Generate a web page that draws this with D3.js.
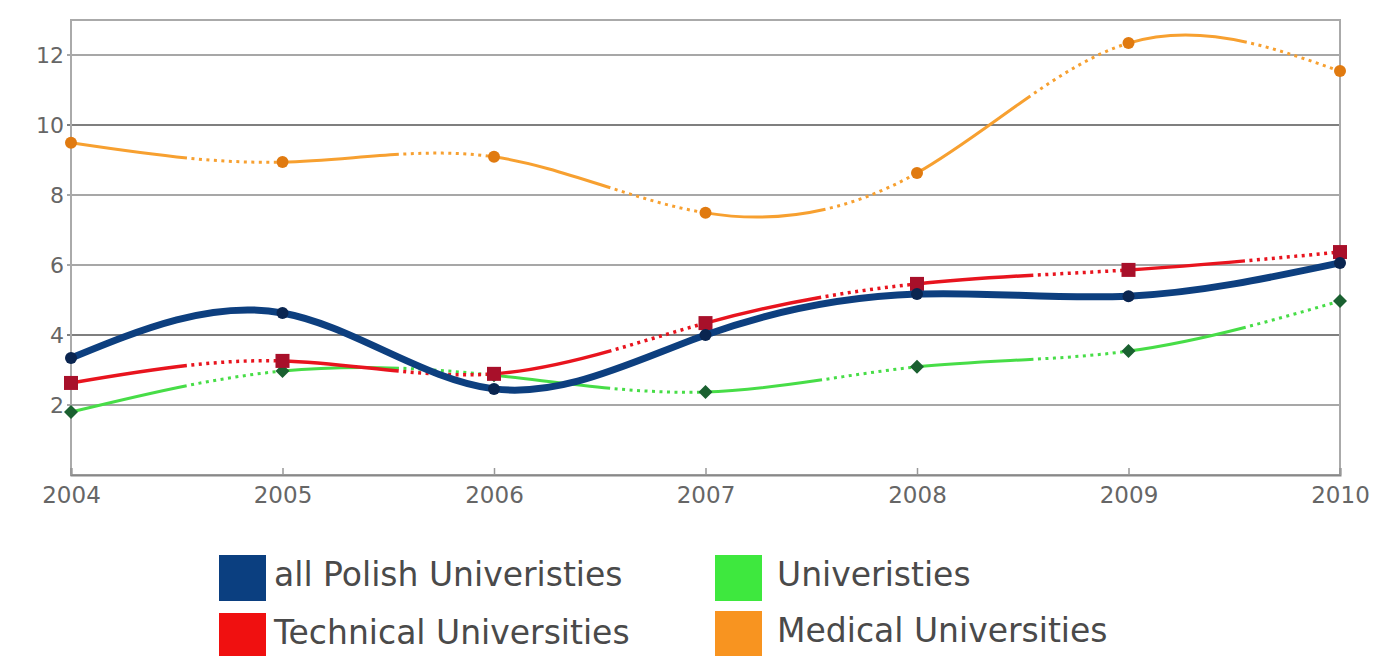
<!DOCTYPE html>
<html><head><meta charset="utf-8">
<script src="https://cdn.jsdelivr.net/npm/d3@7"></script>
<style>html,body{margin:0;padding:0;background:#fff;overflow:hidden}</style>
</head><body>
<svg id="c" width="1383" height="656"></svg>
<script>
const years = [2004, 2005, 2006, 2007, 2008, 2009, 2010];
const yTicks = [2, 4, 6, 8, 10, 12];
const allPolish = [3.34, 4.63, 2.46, 4.0, 5.17, 5.11, 6.06];
const technical = [2.63, 3.26, 2.89, 4.34, 5.46, 5.86, 6.37];
const universities = [1.8, 2.97, 2.85, 2.37, 3.09, 3.54, 4.97];
const medical = [9.49, 8.94, 9.09, 7.49, 8.63, 12.34, 11.54];
const seriesNames = ["all Polish Univeristies", "Technical Universities", "Univeristies", "Medical Universities"];

const svg = d3.select("#c");
const L = 71, R = 1340, T = 20, B = 475;
const x = d3.scaleLinear().domain([2004, 2010]).range([L, R]);
const y = d3.scaleLinear().domain([0, 13]).range([B, T]);

// gridlines
svg.append("g").selectAll("line").data(yTicks).join("line")
  .attr("x1", L - 4).attr("x2", R).attr("y1", d => y(d)).attr("y2", d => y(d))
  .attr("stroke", d => (d === 10 || d === 4) ? "#555" : "#8a8a8a").attr("stroke-width", 1.6);

// frame
svg.append("rect").attr("x", L).attr("y", T).attr("width", R - L).attr("height", B - T)
  .attr("fill", "none").attr("stroke", "#aaa").attr("stroke-width", 2);

// y axis labels
const yAxis = d3.axisLeft(y).tickValues(yTicks).tickSize(0).tickPadding(7).tickFormat(d3.format("d"));
const gy = svg.append("g").attr("transform", `translate(${L},0)`).call(yAxis);
gy.select(".domain").remove();
gy.selectAll("text").attr("font-family", "DejaVu Sans").attr("font-size", 22).attr("fill", "#666");

// x axis
const xAxis = d3.axisBottom(x).tickValues(years).tickSize(-7).tickPadding(12).tickFormat(d3.format("d"));
const gx = svg.append("g").attr("transform", `translate(0,${B})`).call(xAxis);
gx.select(".domain").attr("stroke", "#888").attr("stroke-width", 2);
gx.selectAll(".tick line").attr("stroke", "#999").attr("stroke-width", 1.5);
gx.selectAll("text").attr("font-family", "DejaVu Sans").attr("font-size", 23).attr("fill", "#666");

const line = d3.line().x((d, i) => x(years[i])).y(d => y(d)).curve(d3.curveNatural);

const specs = [
  {data: allPolish, color: "#0d3f7f", mk: "#0a2550", w: 7, dotted: false, shape: "circle"},
  {data: technical, color: "#e8141e", mk: "#a8102a", w: 3.5, dotted: true, shape: "square"},
  {data: universities, color: "#47dd47", mk: "#1a6030", w: 3, dotted: true, shape: "diamond"},
  {data: medical, color: "#f7a030", mk: "#e07a10", w: 3, dotted: true, shape: "circle"}
];

const drawOrder = [3, 2, 1, 0];
drawOrder.forEach(k => {
  const s = specs[k];
  const p = svg.append("path").attr("d", line(s.data)).attr("fill", "none")
    .attr("stroke", s.color).attr("stroke-width", s.w).attr("stroke-linecap", "butt");
  if (s.dotted) {
    const node = p.node();
    const total = node.getTotalLength();
    const lens = years.map(yr => {
      const tx = x(yr);
      let lo = 0, hi = total;
      for (let it = 0; it < 40; it++) {
        const mid = (lo + hi) / 2;
        if (node.getPointAtLength(mid).x < tx) lo = mid; else hi = mid;
      }
      return (lo + hi) / 2;
    });
    const dash = [];
    for (let i = 0; i < lens.length - 1; i++) {
      const len = lens[i + 1] - lens[i];
      const solid = len * 0.55;
      const rest = len - solid;
      dash.push(solid);
      const n = Math.max(0, Math.floor((rest - 4.5) / 7.5));
      let used = 0;
      for (let j = 0; j < n; j++) { dash.push(4.5, 3); used += 7.5; }
      dash.push(rest - used);
    }
    dash.push(0, 1000);
    p.attr("stroke-dasharray", dash.map(v => v.toFixed(2)).join(" "));
  }
  // markers
  const g = svg.append("g");
  s.data.forEach((v, i) => {
    const cx = x(years[i]), cy = y(v);
    if (s.shape === "circle") {
      g.append("circle").attr("cx", cx).attr("cy", cy).attr("r", 6).attr("fill", s.mk);
    } else if (s.shape === "square") {
      g.append("rect").attr("x", cx - 7).attr("y", cy - 7).attr("width", 14).attr("height", 14).attr("fill", s.mk);
    } else {
      g.append("path").attr("d", `M${cx},${cy - 7}L${cx + 7},${cy}L${cx},${cy + 7}L${cx - 7},${cy}Z`).attr("fill", s.mk);
    }
  });
});

// legend
const legendColors = ["#0b3f80", "#f01010", "#3ee83e", "#f89420"];
const legendPos = [[219, 555], [219, 613], [715, 555], [715, 611]];
const lg = svg.append("g");
seriesNames.forEach((name, i) => {
  const [lx, ly] = legendPos[i];
  lg.append("rect").attr("x", lx).attr("y", ly).attr("width", 47).attr("height", 46).attr("fill", legendColors[i]);
  lg.append("text").attr("x", lx < 500 ? 274 : 777).attr("y", ly + 31).text(name)
    .attr("font-family", "DejaVu Sans").attr("font-size", 33).attr("fill", "#4a4a4a");
});
</script>
</body></html>
